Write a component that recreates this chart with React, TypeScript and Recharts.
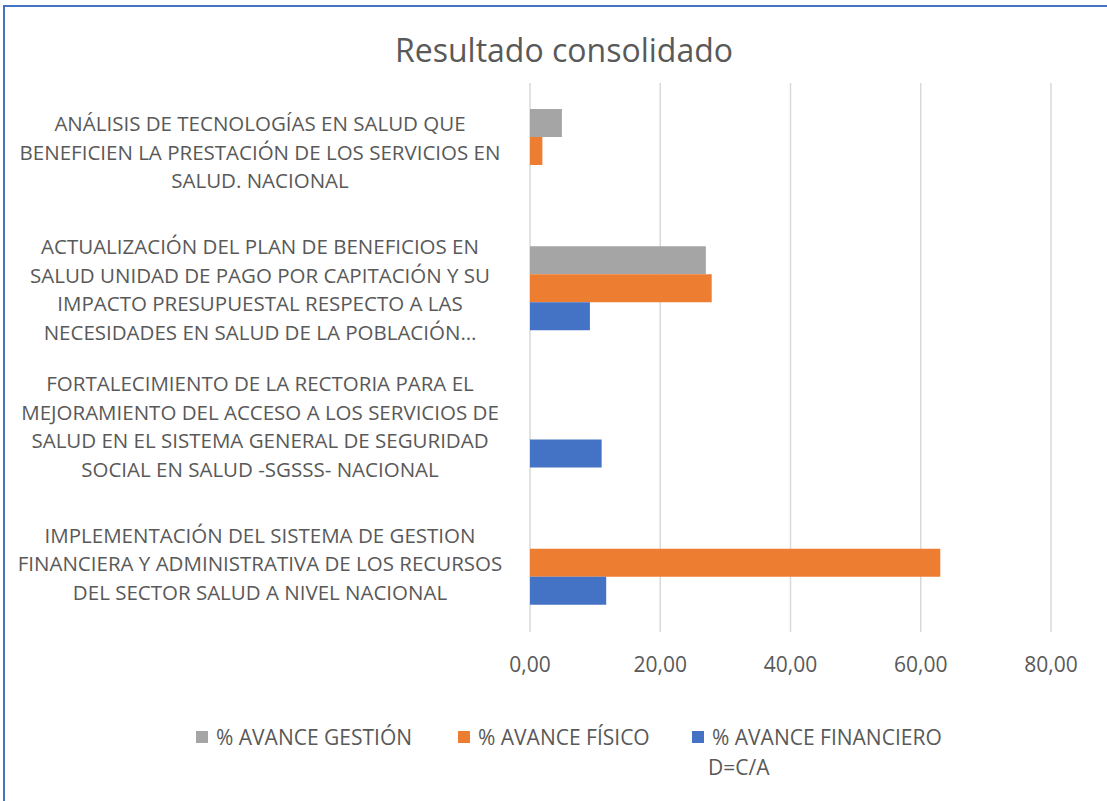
import { Bar, BarChart, CartesianGrid, XAxis, YAxis } from "recharts"

const categoryLines = [
  ["ANÁLISIS DE TECNOLOGÍAS EN SALUD QUE", "BENEFICIEN LA PRESTACIÓN DE LOS SERVICIOS EN", "SALUD. NACIONAL"],
  ["ACTUALIZACIÓN DEL PLAN DE BENEFICIOS EN", "SALUD UNIDAD DE PAGO POR CAPITACIÓN Y SU", "IMPACTO PRESUPUESTAL RESPECTO A LAS", "NECESIDADES EN SALUD DE LA POBLACIÓN…"],
  ["FORTALECIMIENTO DE LA RECTORIA PARA EL", "MEJORAMIENTO DEL ACCESO A LOS SERVICIOS DE", "SALUD EN EL SISTEMA GENERAL DE SEGURIDAD", "SOCIAL EN SALUD -SGSSS- NACIONAL"],
  ["IMPLEMENTACIÓN DEL SISTEMA DE GESTION", "FINANCIERA Y ADMINISTRATIVA DE LOS RECURSOS", "DEL SECTOR SALUD A NIVEL NACIONAL"],
]
const categories = categoryLines.map((l) => l.join(" "))

const gestion = [4.9, 27.0, 0, 0]
const fisico = [1.9, 27.9, 0, 63.0]
const financiero = [0, 9.2, 11.0, 11.7]

const xTicks = [0, 20, 40, 60, 80]

const seriesNames = ["% AVANCE GESTIÓN", "% AVANCE FÍSICO", "% AVANCE FINANCIERO D=C/A"]

const data = categories.map((name, i) => ({
  name,
  gestion: gestion[i],
  fisico: fisico[i],
  financiero: financiero[i],
}))

const FONT = "'Open Sans', sans-serif"
const TEXT = "#595959"

function CategoryTick(props: any) {
  const { y, payload } = props
  const lines = categoryLines[categories.indexOf(payload.value)] || [payload.value]
  const lh = 28.7
  const start = -((lines.length - 1) / 2) * lh
  return (
    <text x={260} y={y} textAnchor="middle" fill={TEXT} fontSize={20.5} fontFamily={FONT}>
      {lines.map((l: string, i: number) => (
        <tspan key={i} x={260} y={y + start + i * lh} dominantBaseline="central">
          {l}
        </tspan>
      ))}
    </text>
  )
}

export default function App() {
  const legend = [
    { color: "#a5a5a5", key: 196, text: seriesNames[0] },
    { color: "#ed7d31", key: 458, text: seriesNames[1] },
    { color: "#4472c4", key: 692, text: "% AVANCE FINANCIERO" },
  ]
  return (
    <div style={{ position: "absolute", left: 0, top: 0, width: 1107, height: 801, overflow: "hidden", background: "#fff" }}>
      <div style={{ position: "absolute", left: 3, top: 5, width: 1300, height: 1000, border: "2px solid #4472c4" }} />
      <div
        style={{
          position: "absolute", left: 264, width: 600, top: 30, textAlign: "center",
          fontFamily: FONT, fontSize: 32, color: TEXT, lineHeight: "40px",
        }}
      >
        Resultado consolidado
      </div>
      <BarChart
        width={1107}
        height={801}
        data={data}
        layout="vertical"
        margin={{ top: 83, right: 56, bottom: 129, left: 0 }}
        barCategoryGap={26}
        barGap={0}
        style={{ position: "absolute", left: 0, top: 0 }}
      >
        <CartesianGrid horizontal={false} stroke="#d9d9d9" strokeWidth={1.5} />
        <XAxis
          type="number"
          domain={[0, 80]}
          ticks={xTicks}
          axisLine={false}
          tickLine={false}
          height={40}
          tickMargin={19}
          tick={{ fill: TEXT, fontSize: 21, fontFamily: FONT }}
          tickFormatter={(v: number) => v.toFixed(2).replace(".", ",")}
        />
        <YAxis
          type="category"
          dataKey="name"
          width={530}
          axisLine={false}
          tickLine={false}
          tick={<CategoryTick />}
          interval={0}
        />
        <Bar dataKey="gestion" name={seriesNames[0]} fill="#a5a5a5" isAnimationActive={false} />
        <Bar dataKey="fisico" name={seriesNames[1]} fill="#ed7d31" isAnimationActive={false} />
        <Bar dataKey="financiero" name={seriesNames[2]} fill="#4472c4" isAnimationActive={false} />
      </BarChart>
      {legend.map((item) => (
        <div key={item.key} style={{ position: "absolute", left: item.key, top: 723, display: "flex", alignItems: "center", fontFamily: FONT, fontSize: 21, color: TEXT, lineHeight: "28px" }}>
          <span style={{ display: "inline-block", width: 12, height: 12, background: item.color, marginRight: 8 }} />
          <span>{item.text}</span>
        </div>
      ))}
      <div style={{ position: "absolute", left: 708, top: 753, fontFamily: FONT, fontSize: 21, color: TEXT, lineHeight: "28px" }}>
        D=C/A
      </div>
    </div>
  )
}
